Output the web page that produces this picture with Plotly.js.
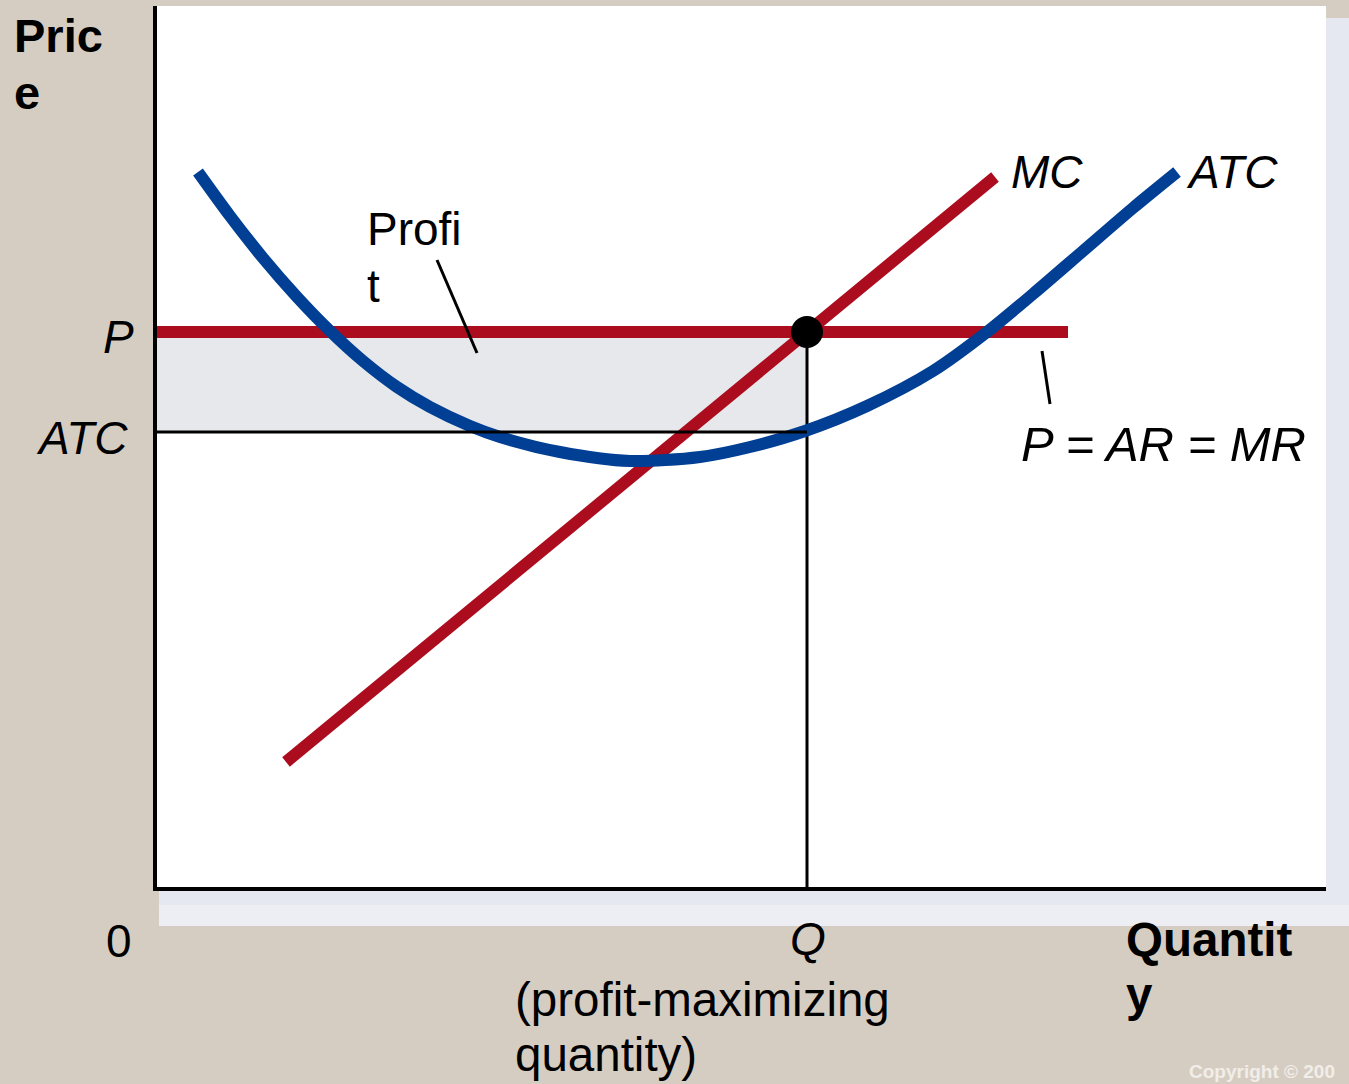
<!DOCTYPE html>
<html>
<head>
<meta charset="utf-8">
<script src="https://cdn.plot.ly/plotly-3.0.1.min.js"></script>
<style>html,body{margin:0;padding:0;background:#d6cdc2;}#chart{width:1349px;height:1084px;}</style>
</head>
<body>
<div id="chart"></div>
<script>
// ---- Data (quantity / cost units) ----
const atcQuantity = [0.41, 0.73, 1.06, 1.40, 1.73, 2.06, 2.40, 2.73, 3.13, 3.43, 4.03, 4.73, 5.43, 5.93, 6.48, 7.10, 7.76, 8.30, 8.76, 9.26, 9.76, 10.20];
const atcCost     = [7.15, 6.71, 6.29, 5.90, 5.56, 5.26, 5.00, 4.80, 4.61, 4.50, 4.35, 4.26, 4.30, 4.40, 4.56, 4.81, 5.16, 5.55, 5.93, 6.36, 6.79, 7.15];
const mcQuantity  = [1.29, 8.38];
const mcCost      = [1.25, 7.10];
const priceQuantity = [0, 9.11];
const price = 5.55;
const qStar = 6.50;
const atcAtQ = 4.55;
const profitPointer = {x: [2.80, 3.20], y: [6.27, 5.34]};
const mrPointer = {x: [8.85, 8.93], y: [5.36, 4.83]};

const RED = '#ab0d1f', BLUE = '#003f93', BEIGE = '#d6cdc2';
const FONT = 'Liberation Sans, Arial, sans-serif';

// layout geometry helpers (pixel -> paper) for labels outside the axes
const L = 157, T = 6, W = 1169, H = 881;
const px = x => (x - L) / W;
const py = y => (T + H - y) / H;

const traces = [
  { // profit rectangle
    x: [0, qStar, qStar, 0, 0], y: [atcAtQ, atcAtQ, price, price, atcAtQ],
    mode: 'lines', fill: 'toself', fillcolor: '#e6e8eb', line: {width: 0, color: 'rgba(0,0,0,0)'}, hoverinfo: 'skip'
  },
  { // P = AR = MR
    x: priceQuantity, y: [price, price], mode: 'lines', line: {color: RED, width: 12}
  },
  { // MC
    x: mcQuantity, y: mcCost, mode: 'lines', line: {color: RED, width: 12}
  },
  { // Q vertical
    x: [qStar, qStar], y: [0, price], mode: 'lines', line: {color: 'black', width: 3}
  },
  { // ATC curve
    x: atcQuantity, y: atcCost, mode: 'lines', line: {color: BLUE, width: 12, shape: 'spline', smoothing: 0.8}
  },
  { // ATC horizontal at Q
    x: [0, qStar], y: [atcAtQ, atcAtQ], mode: 'lines', line: {color: 'black', width: 3}
  },
  { // equilibrium dot
    x: [qStar], y: [price], mode: 'markers', marker: {color: 'black', size: 32}
  }
];

const txt = (text, x, y, opts = {}) => Object.assign({
  text, x, y, xref: 'paper', yref: 'paper', showarrow: false,
  xanchor: 'left', yanchor: 'middle',
  font: {family: FONT, size: opts.size || 46, color: 'black', style: opts.italic ? 'italic' : 'normal', weight: opts.bold ? 'bold' : 'normal'}
}, opts.extra || {});

const annotations = [
  txt('Pric', px(12), py(35), {bold: true, size: 47}),
  txt('e', px(12), py(92), {bold: true, size: 47}),
  txt('P', px(118), py(337), {italic: true, extra: {xanchor: 'center'}}),
  txt('ATC', px(130), py(438), {italic: true, extra: {xanchor: 'right'}}),
  txt('0', px(119), py(941), {extra: {xanchor: 'center'}}),
  txt('Q', px(808), py(939), {italic: true, extra: {xanchor: 'center'}}),
  txt('(profit-maximizing', px(513), py(999), {size: 47.5}),
  txt('quantity)', px(513), py(1054), {size: 47.5}),
  txt('Quantit', px(1124), py(939), {bold: true, size: 47.5}),
  txt('y', px(1124), py(995), {bold: true, size: 47.5}),
  txt('Profi', px(365), py(229)),
  txt('t', px(365), py(286)),
  txt('MC', px(1009), py(172), {italic: true}),
  txt('ATC', px(1184), py(172), {italic: true}),
  txt('P = AR = MR', px(1019), py(444), {italic: true, size: 49}),
  {text: 'Copyright © 200', x: px(1187), y: py(1071), xref: 'paper', yref: 'paper', showarrow: false,
   xanchor: 'left', yanchor: 'middle', font: {family: FONT, size: 19, color: '#f1eee9', weight: 'bold'}}
];

const shapes = [
  {type: 'rect', xref: 'paper', yref: 'paper', x0: px(159), x1: px(1360), y0: py(926), y1: py(18), fillcolor: '#e5e8f0', line: {width: 0}, layer: 'below'},
  {type: 'rect', xref: 'paper', yref: 'paper', x0: px(159), x1: px(1360), y0: py(926), y1: py(905), fillcolor: '#eceef3', line: {width: 0}, layer: 'below'},
  {type: 'rect', xref: 'paper', yref: 'paper', x0: 0, x1: 1, y0: 0, y1: 1, fillcolor: 'white', line: {width: 0}, layer: 'below'},
  {type: 'line', xref: 'x', yref: 'y', x0: profitPointer.x[0], x1: profitPointer.x[1], y0: profitPointer.y[0], y1: profitPointer.y[1], line: {color: 'black', width: 3}},
  {type: 'line', xref: 'x', yref: 'y', x0: mrPointer.x[0], x1: mrPointer.x[1], y0: mrPointer.y[0], y1: mrPointer.y[1], line: {color: 'black', width: 3}}
];

const layout = {
  width: 1349, height: 1084,
  margin: {l: L, r: 1349 - L - W, t: T, b: 1084 - T - H, pad: 0},
  paper_bgcolor: BEIGE, plot_bgcolor: 'rgba(0,0,0,0)',
  showlegend: false,
  xaxis: {range: [0, 11.69], showgrid: false, zeroline: false, showticklabels: false, ticks: '',
          showline: true, linecolor: 'black', linewidth: 4, fixedrange: true},
  yaxis: {range: [0, 8.81], showgrid: false, zeroline: false, showticklabels: false, ticks: '',
          showline: true, linecolor: 'black', linewidth: 4, fixedrange: true},
  annotations, shapes
};

Plotly.newPlot('chart', traces, layout, {staticPlot: true, displayModeBar: false});
</script>
</body>
</html>
